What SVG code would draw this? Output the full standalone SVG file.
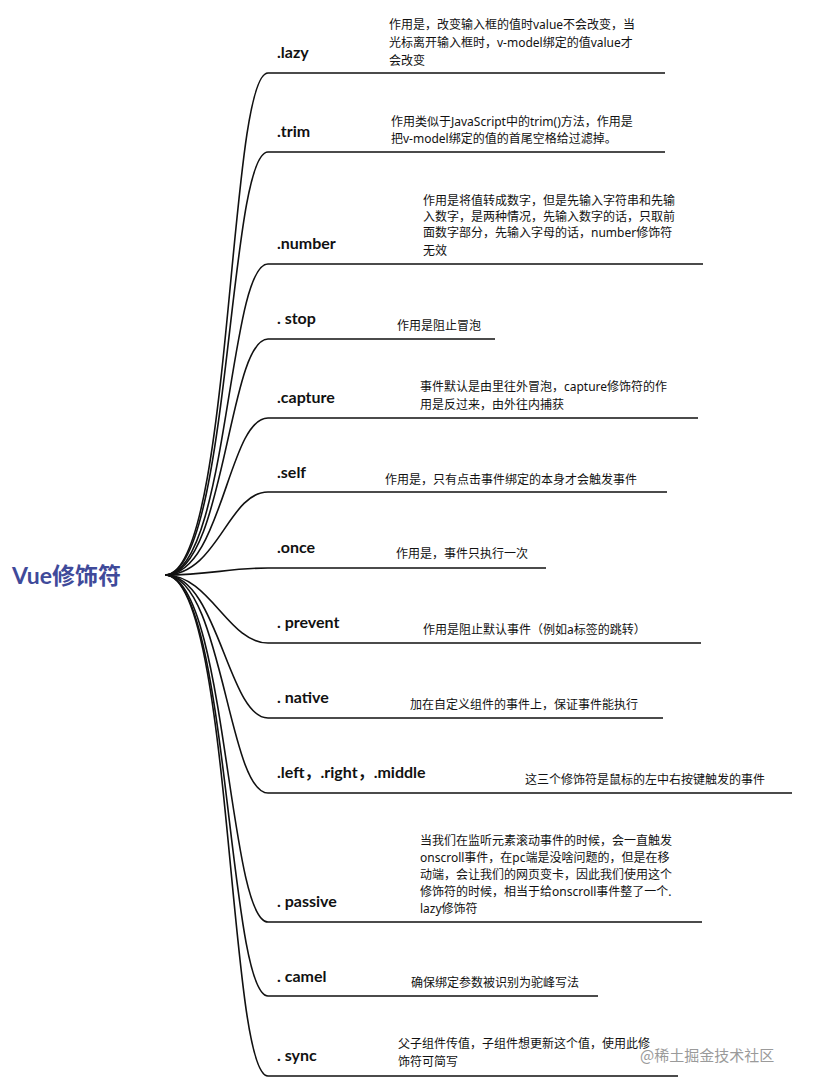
<svg xmlns="http://www.w3.org/2000/svg" width="820" height="1092" viewBox="0 0 820 1092">
<style>
.b{fill:none;stroke:#111;stroke-width:1.6}
.k{font-family:Lato,"Noto Sans","Noto Sans CJK SC",sans-serif;font-weight:bold;font-size:16px;fill:#111}
.d{font-family:"Noto Sans","Noto Sans CJK SC",sans-serif;font-size:12px;fill:#111}
</style>
<rect width="820" height="1092" fill="#fff"/>
<g id="connectors">
<path class="b" d="M165,575 C232,575 228,73 268,73 H665"/>
<path class="b" d="M165,575 C230,575 228,152 268,152 H665"/>
<path class="b" d="M165,575 C228,575 228,264 268,264 H703"/>
<path class="b" d="M165,575 C225,575 228,339 268,339 H495"/>
<path class="b" d="M165,575 C222,575 228,418 268,418 H698"/>
<path class="b" d="M165,575 C218,575 228,492 268,492 H667"/>
<path class="b" d="M165,575 C210,575 228,568 268,568 H546"/>
<path class="b" d="M165,575 C210,575 228,643 268,643 H701"/>
<path class="b" d="M165,575 C218,575 228,718 268,718 H663"/>
<path class="b" d="M165,575 C222,575 228,793 268,793 H792"/>
<path class="b" d="M165,575 C226,575 228,922 268,922 H702"/>
<path class="b" d="M165,575 C228,575 228,996 268,996 H598"/>
<path class="b" d="M165,575 C232,575 228,1076 268,1076 H678"/>
</g>
<g id="root"><text x="12" y="584" font-family="Lato,'Noto Sans','Noto Sans CJK SC',sans-serif" font-weight="bold" font-size="23" fill="#3f4a9a">Vue修饰符</text></g>
<g id="lazy"><text class="k" x="277" y="58">.lazy</text><text class="d"><tspan x="389" y="29">作用是，改变输入框的值时value不会改变，当</tspan><tspan x="389" y="47">光标离开输入框时，v-model绑定的值value才</tspan><tspan x="389" y="65">会改变</tspan></text></g>
<g id="trim"><text class="k" x="277" y="137">.trim</text><text class="d"><tspan x="391" y="126">作用类似于JavaScript中的trim()方法，作用是</tspan><tspan x="391" y="143">把v-model绑定的值的首尾空格给过滤掉。</tspan></text></g>
<g id="number"><text class="k" x="277" y="249">.number</text><text class="d"><tspan x="423" y="205">作用是将值转成数字，但是先输入字符串和先输</tspan><tspan x="423" y="221">入数字，是两种情况，先输入数字的话，只取前</tspan><tspan x="423" y="237">面数字部分，先输入字母的话，number修饰符</tspan><tspan x="423" y="255">无效</tspan></text></g>
<g id="stop"><text class="k" x="277" y="324">. stop</text><text class="d" x="397" y="330">作用是阻止冒泡</text></g>
<g id="capture"><text class="k" x="277" y="403">.capture</text><text class="d"><tspan x="420" y="391">事件默认是由里往外冒泡，capture修饰符的作</tspan><tspan x="420" y="409">用是反过来，由外往内捕获</tspan></text></g>
<g id="self"><text class="k" x="277" y="478">.self</text><text class="d" x="385" y="484">作用是，只有点击事件绑定的本身才会触发事件</text></g>
<g id="once"><text class="k" x="277" y="553">.once</text><text class="d" x="396" y="558">作用是，事件只执行一次</text></g>
<g id="prevent"><text class="k" x="277" y="628">. prevent</text><text class="d" x="423" y="634">作用是阻止默认事件（例如a标签的跳转）</text></g>
<g id="native"><text class="k" x="277" y="703">. native</text><text class="d" x="410" y="709">加在自定义组件的事件上，保证事件能执行</text></g>
<g id="leftrightmiddle"><text class="k" x="277" y="778">.left，.right，.middle</text><text class="d" x="525" y="784">这三个修饰符是鼠标的左中右按键触发的事件</text></g>
<g id="passive"><text class="k" x="277" y="907">. passive</text><text class="d"><tspan x="420" y="845">当我们在监听元素滚动事件的时候，会一直触发</tspan><tspan x="420" y="862">onscroll事件，在pc端是没啥问题的，但是在移</tspan><tspan x="420" y="879">动端，会让我们的网页变卡，因此我们使用这个</tspan><tspan x="420" y="896">修饰符的时候，相当于给onscroll事件整了一个.</tspan><tspan x="420" y="913">lazy修饰符</tspan></text></g>
<g id="camel"><text class="k" x="277" y="982">. camel</text><text class="d" x="411" y="987">确保绑定参数被识别为驼峰写法</text></g>
<g id="sync"><text class="k" x="277" y="1061">. sync</text><text class="d"><tspan x="398" y="1048">父子组件传值，子组件想更新这个值，使用此修</tspan><tspan x="398" y="1066">饰符可简写</tspan></text></g>
<text x="640" y="1061" font-family="'Noto Sans CJK SC',sans-serif" font-size="15" fill="#9a9a9a">@稀土掘金技术社区</text>
</svg>
